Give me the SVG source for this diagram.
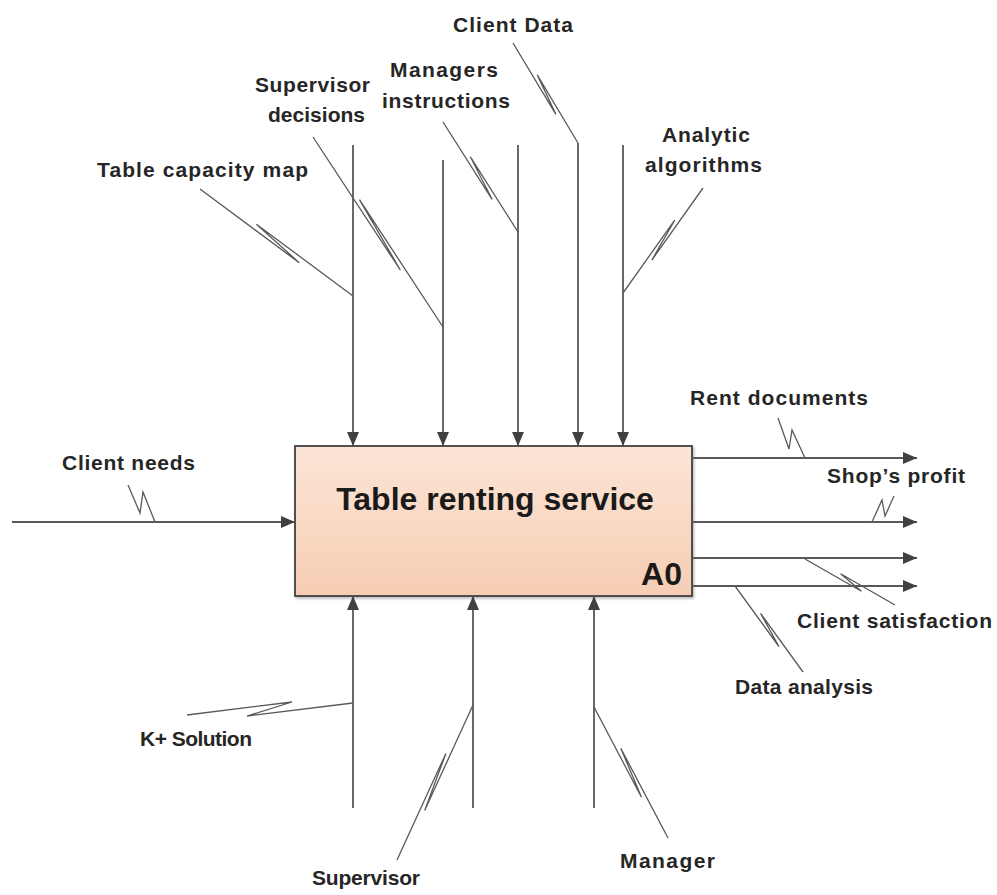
<svg xmlns="http://www.w3.org/2000/svg" width="997" height="895" viewBox="0 0 997 895">
  <defs>
    <linearGradient id="boxFill" x1="0" y1="0" x2="0" y2="1">
      <stop offset="0" stop-color="#fce5d6"/>
      <stop offset="1" stop-color="#f6cdb3"/>
    </linearGradient>
    <marker id="arrow" viewBox="0 0 14 12" refX="14" refY="6" markerWidth="14" markerHeight="12" markerUnits="userSpaceOnUse" orient="auto">
      <path d="M0,0 L14,6 L0,12 Z" fill="#404040"/>
    </marker>
    <filter id="shadow" x="-5%" y="-5%" width="110%" height="115%">
      <feDropShadow dx="1.5" dy="2" stdDeviation="1.2" flood-color="#000" flood-opacity="0.25"/>
    </filter>
  </defs>
  <style>
    .arrowline { fill: none; stroke: #595959; stroke-width: 1.8; }
    .leader { fill: none; stroke: #595959; stroke-width: 1.3; stroke-linejoin: miter; }
    .label { font-family: "Liberation Sans", Arial, sans-serif; font-weight: bold; font-size: 21px; fill: #262626; }
    .title { font-family: "Liberation Sans", Arial, sans-serif; font-weight: bold; font-size: 32px; fill: #1a1a1a; }
  </style>

  <rect width="997" height="895" fill="#ffffff"/>

  <!-- Activity box A0 -->
  <g id="node-a0">
    <rect x="295" y="446" width="397" height="150" fill="url(#boxFill)" stroke="#404040" stroke-width="1.8" filter="url(#shadow)"/>
    <text class="title" x="495" y="510" text-anchor="middle">Table renting service</text>
    <text class="title" x="682" y="585" text-anchor="end" font-size="30">A0</text>
  </g>

  <!-- Arrows and label leaders -->
  <g id="connectors">
    <!-- controls (top) -->
    <line class="arrowline" x1="353" y1="145" x2="353" y2="446" marker-end="url(#arrow)"/>
    <line class="arrowline" x1="443" y1="160" x2="443" y2="446" marker-end="url(#arrow)"/>
    <line class="arrowline" x1="518" y1="145" x2="518" y2="446" marker-end="url(#arrow)"/>
    <line class="arrowline" x1="578" y1="143" x2="578" y2="446" marker-end="url(#arrow)"/>
    <line class="arrowline" x1="623" y1="145" x2="623" y2="446" marker-end="url(#arrow)"/>

    <!-- input (left) -->
    <line class="arrowline" x1="12" y1="522" x2="295" y2="522" marker-end="url(#arrow)"/>

    <!-- outputs (right) -->
    <line class="arrowline" x1="692" y1="458" x2="917" y2="458" marker-end="url(#arrow)"/>
    <line class="arrowline" x1="692" y1="522" x2="917" y2="522" marker-end="url(#arrow)"/>
    <line class="arrowline" x1="692" y1="558" x2="917" y2="558" marker-end="url(#arrow)"/>
    <line class="arrowline" x1="692" y1="586" x2="917" y2="586" marker-end="url(#arrow)"/>

    <!-- mechanisms (bottom) -->
    <line class="arrowline" x1="353" y1="808" x2="353" y2="596" marker-end="url(#arrow)"/>
    <line class="arrowline" x1="473" y1="808" x2="473" y2="596" marker-end="url(#arrow)"/>
    <line class="arrowline" x1="594" y1="808" x2="594" y2="596" marker-end="url(#arrow)"/>

    <!-- squiggle leaders -->
    <polyline class="leader" points="200,189 299.2,262.7 256.4,224.2 353,296"/>
    <polyline class="leader" points="313,137 400.3,270 359.5,199.7 443,327"/>
    <polyline class="leader" points="443,122 492.1,199.3 470.4,156.8 518,232"/>
    <polyline class="leader" points="513,43 555.9,114.4 537.2,74.8 578,143"/>
    <polyline class="leader" points="703,188 651.9,260 674.7,220.2 623,293"/>
    <polyline class="leader" points="128,485 140,513 143,492 155,522"/>
    <polyline class="leader" points="778,418 789,449 792,430 805,458"/>
    <polyline class="leader" points="894,496 885,516 882,500 872,522"/>
    <polyline class="leader" points="805,559 861.4,591.2 840.6,573.8 895,605"/>
    <polyline class="leader" points="735,586 778.9,646.5 760.6,613.4 803,672"/>
    <polyline class="leader" points="187,715 292,702 247,716 353,703"/>
    <polyline class="leader" points="397,860 445.9,753.4 424.7,810.4 473,705"/>
    <polyline class="leader" points="668,838 620.8,748.3 641.5,797.2 594,707"/>
  </g>

  <!-- Arrow labels -->
  <g id="label-client-data"><text class="label" x="453" y="32" textLength="120" lengthAdjust="spacing">Client Data</text></g>
  <g id="label-supervisor-decisions">
    <text class="label" x="255" y="92" textLength="115" lengthAdjust="spacing">Supervisor</text>
    <text class="label" x="268" y="122" textLength="97" lengthAdjust="spacing">decisions</text>
  </g>
  <g id="label-managers-instructions">
    <text class="label" x="390" y="77" textLength="108" lengthAdjust="spacing">Managers</text>
    <text class="label" x="382" y="108" textLength="128" lengthAdjust="spacing">instructions</text>
  </g>
  <g id="label-table-capacity-map"><text class="label" x="97" y="177" textLength="211" lengthAdjust="spacing">Table capacity map</text></g>
  <g id="label-analytic-algorithms">
    <text class="label" x="662" y="142" textLength="88" lengthAdjust="spacing">Analytic</text>
    <text class="label" x="645" y="172" textLength="117" lengthAdjust="spacing">algorithms</text>
  </g>
  <g id="label-client-needs"><text class="label" x="62" y="470" textLength="133" lengthAdjust="spacing">Client needs</text></g>
  <g id="label-rent-documents"><text class="label" x="690" y="405" textLength="178" lengthAdjust="spacing">Rent documents</text></g>
  <g id="label-shops-profit"><text class="label" x="827" y="483" textLength="138" lengthAdjust="spacing">Shop’s profit</text></g>
  <g id="label-client-satisfaction"><text class="label" x="797" y="628" textLength="195" lengthAdjust="spacing">Client satisfaction</text></g>
  <g id="label-data-analysis"><text class="label" x="735" y="694" textLength="138" lengthAdjust="spacing">Data analysis</text></g>
  <g id="label-k-solution"><text class="label" x="140" y="746" textLength="112" lengthAdjust="spacing">K+ Solution</text></g>
  <g id="label-supervisor"><text class="label" x="312" y="885" textLength="108" lengthAdjust="spacing">Supervisor</text></g>
  <g id="label-manager"><text class="label" x="620" y="868" textLength="95" lengthAdjust="spacing">Manager</text></g>
</svg>
